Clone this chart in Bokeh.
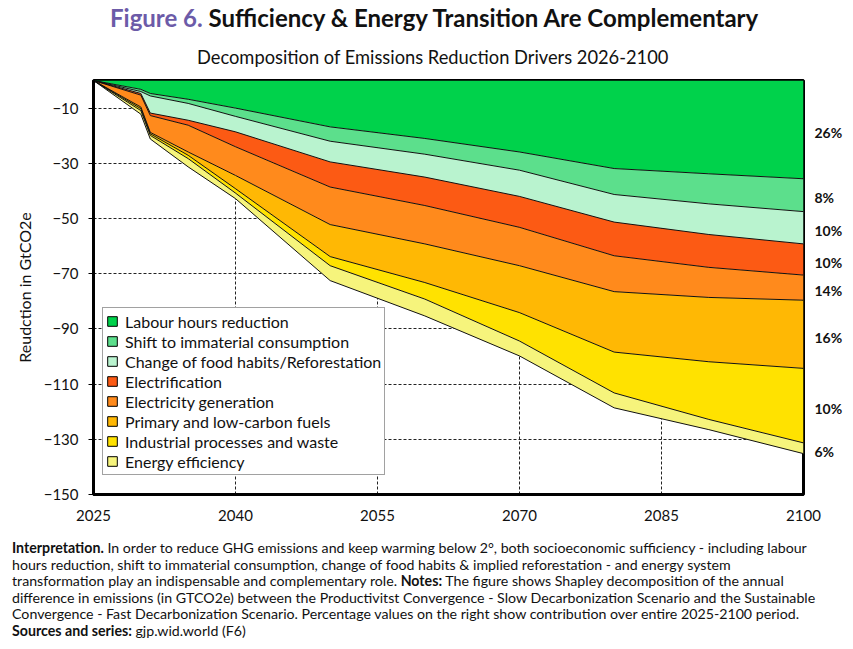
import traceback
from bokeh.embed import file_html
from bokeh.resources import INLINE
from bokeh.models import Div

try:
    import numpy as np
    from bokeh.plotting import figure
    from bokeh.models import (ColumnDataSource, Range1d, FixedTicker, Legend, LegendItem,
                              LinearAxis, CDSView, IndexFilter)
    from bokeh.layouts import column
    from bokeh.transform import stack

    # ---------------- data (GtCO2e, negative = reduction) ----------------
    years = [2025, 2030, 2031, 2035, 2040, 2050, 2060, 2070, 2080, 2090, 2100]
    labour = [0, -3.2, -4.7, -6.8, -10.0, -16.8, -21.0, -25.9, -31.9, -33.8, -35.6]
    shift = [0, -0.8, -0.9, -1.5, -3.0, -5.2, -5.7, -6.6, -9.4, -10.9, -11.9]
    food = [0, -0.7, -6.2, -6.1, -5.6, -7.5, -8.3, -9.5, -10.0, -11.1, -11.7]
    electrification = [0, -0.6, -0.9, -1.8, -5.4, -9.1, -10.3, -11.2, -12.2, -11.9, -11.3]
    elec_gen = [0, -4.3, -6.1, -9.7, -10.4, -13.6, -13.9, -13.9, -13.0, -10.9, -9.1]
    primary = [0, -0.6, -0.5, -1.2, -4.8, -11.6, -14.0, -17.0, -21.9, -23.3, -24.7]
    industrial = [0, -0.7, -0.6, -1.2, -1.6, -3.3, -6.0, -10.3, -14.8, -20.9, -27.0]
    efficiency = [0, -1.3, -1.3, -3.0, -2.0, -5.4, -6.1, -5.4, -5.4, -3.7, -3.9]

    series_keys = ["labour", "shift", "food", "electrification", "elec_gen",
                   "primary", "industrial", "efficiency"]
    series_names = ["Labour hours reduction", "Shift to immaterial consumption",
                    "Change of food habits/Reforestation", "Electrification",
                    "Electricity generation", "Primary and low-carbon fuels",
                    "Industrial processes and waste", "Energy efficiency"]
    pct_labels = ["26%", "8%", "10%", "10%", "14%", "16%", "10%", "6%"]
    x_ticks = [2025, 2040, 2055, 2070, 2085, 2100]
    y_ticks = [-10, -30, -50, -70, -90, -110, -130, -150]

    colors = ["#00D24B", "#5CDF8C", "#B9F3CF", "#FC5A14",
              "#FF8A1C", "#FFB804", "#FFE200", "#F6F47C"]

    FONT = "Lato"

    data = dict(year=years, labour=labour, shift=shift, food=food,
                electrification=electrification, elec_gen=elec_gen,
                primary=primary, industrial=industrial, efficiency=efficiency)
    source = ColumnDataSource(data)

    p = figure(width=845, height=464, x_range=Range1d(2025, 2100), y_range=Range1d(-150, 0),
               output_backend="svg", toolbar_location=None,
               min_border_left=93, min_border_right=42, min_border_top=4, min_border_bottom=46)
    p.title.visible = False
    p.background_fill_color = "white"
    p.border_fill_color = "white"
    p.outline_line_color = "black"
    p.outline_line_width = 3

    # stacked areas
    p.varea_stack(stackers=series_keys, x="year", color=colors, source=source)
    for i in range(len(series_keys)):
        p.line(x="year", y=stack(*series_keys[:i + 1]), source=source,
               line_color="#111111", line_width=1)

    # legend swatches: degenerate boxes at the chart origin (first row only)
    first_row = CDSView(filter=IndexFilter([0]))
    legend_items = []
    for key, name, c in zip(series_keys, series_names, colors):
        r = p.quad(left="year", right="year", top=key, bottom=key, source=source,
                   view=first_row, fill_color=c, line_color="black", line_width=1)
        legend_items.append(LegendItem(label=name, renderers=[r]))

    legend = Legend(items=legend_items, location=(9, 19))
    legend.label_text_font = FONT
    legend.label_text_font_size = "16px"
    legend.label_text_color = "#111111"
    legend.glyph_width = 12
    legend.glyph_height = 12
    legend.label_standoff = 7
    legend.label_height = 20
    legend.padding = 3
    legend.spacing = 0
    legend.margin = 0
    legend.border_line_color = "#444444"
    legend.border_line_width = 1
    legend.background_fill_color = "white"
    legend.background_fill_alpha = 1
    p.add_layout(legend)

    # percentage labels on the right, at the middle of each band in 2100
    final = np.array([data[k][-1] for k in series_keys], dtype=float)
    cum = np.cumsum(final)
    tops = np.concatenate([[0.0], cum[:-1]])
    mids = [round(float(m), 2) for m in (tops + cum) / 2.0 - 1.0]
    raxis = LinearAxis(ticker=FixedTicker(ticks=mids),
                       major_label_overrides={m: t for m, t in zip(mids, pct_labels)})
    raxis.axis_line_color = None
    raxis.major_tick_line_color = None
    raxis.minor_tick_line_color = None
    raxis.major_label_standoff = 5
    raxis.major_label_text_font = FONT
    raxis.major_label_text_font_style = "bold"
    raxis.major_label_text_font_size = "14px"
    raxis.major_label_text_color = "#111111"
    p.add_layout(raxis, "right")

    # axes
    lax = p.left[0]
    bax = p.below[0]
    bax.ticker = FixedTicker(ticks=x_ticks)
    lax.ticker = FixedTicker(ticks=y_ticks)
    for ax in (bax, lax):
        ax.axis_line_color = "black"
        ax.axis_line_width = 3
        ax.major_label_text_font = FONT
        ax.major_label_text_font_size = "15px"
        ax.major_label_text_color = "#111111"
        ax.minor_tick_line_color = None
    bax.major_tick_line_color = None
    bax.major_tick_out = 0
    bax.major_tick_in = 0
    bax.major_label_standoff = 15
    lax.major_tick_line_color = "black"
    lax.major_tick_line_width = 1
    lax.major_tick_out = 5
    lax.major_tick_in = 0
    lax.major_label_standoff = 10
    lax.axis_label = "Reudction in GtCO2e"
    lax.axis_label_text_font = FONT
    lax.axis_label_text_font_size = "16px"
    lax.axis_label_text_font_style = "normal"
    lax.axis_label_text_color = "#111111"
    lax.axis_label_standoff = 7

    # grids
    p.xgrid.ticker = FixedTicker(ticks=x_ticks[1:-1])
    p.ygrid.ticker = FixedTicker(ticks=y_ticks)
    p.xgrid.grid_line_color = "#222222"
    p.ygrid.grid_line_color = "#222222"
    p.xgrid.grid_line_dash = "3 2"
    p.ygrid.grid_line_dash = "3 2"

    title_div = Div(
        text=('<div style="padding-left:110px;font-family:Lato;font-weight:bold;white-space:nowrap;'
              'font-size:24px;line-height:24px;margin-top:6px;color:#111">'
              '<span style="color:#6C5BA8">Figure 6.</span> Sufficiency &amp; Energy Transition Are Complementary</div>'
              '<div style="padding-left:197px;font-family:Lato;font-size:18.3px;white-space:nowrap;'
              'line-height:22px;margin-top:16px;color:#111">Decomposition of Emissions Reduction Drivers 2026-2100</div>'),
        width=845, height=76, margin=0)

    notes_html = (
        '<div style="font-family:Lato;font-size:14.2px;line-height:16.6px;color:#111;'
        'white-space:nowrap;padding-left:12px">'
        '<b>Interpretation.</b> In order to reduce GHG emissions and keep warming below 2&deg;, both socioeconomic sufficiency - including labour<br>'
        'hours reduction, shift to immaterial consumption, change of food habits &amp; implied reforestation - and energy system<br>'
        'transformation play an indispensable and complementary role. <b>Notes:</b> The figure shows Shapley decomposition of the annual<br>'
        'difference in emissions (in GTCO2e) between the Productivitst Convergence - Slow Decarbonization Scenario and the Sustainable<br>'
        'Convergence - Fast Decarbonization Scenario. Percentage values on the right show contribution over entire 2025-2100 period.<br>'
        '<b>Sources and series:</b> gjp.wid.world (F6)</div>')
    notes_div = Div(text=notes_html, width=845, height=100, margin=0)

    layout = column(title_div, p, notes_div, spacing=0)
    html = file_html(layout, INLINE)
except Exception:
    err = traceback.format_exc()
    html = file_html(Div(text="<pre>" + err.replace("<", "&lt;") + "</pre>", width=830, height=600), INLINE)

open("out.html", "w", encoding="utf-8").write(html)
